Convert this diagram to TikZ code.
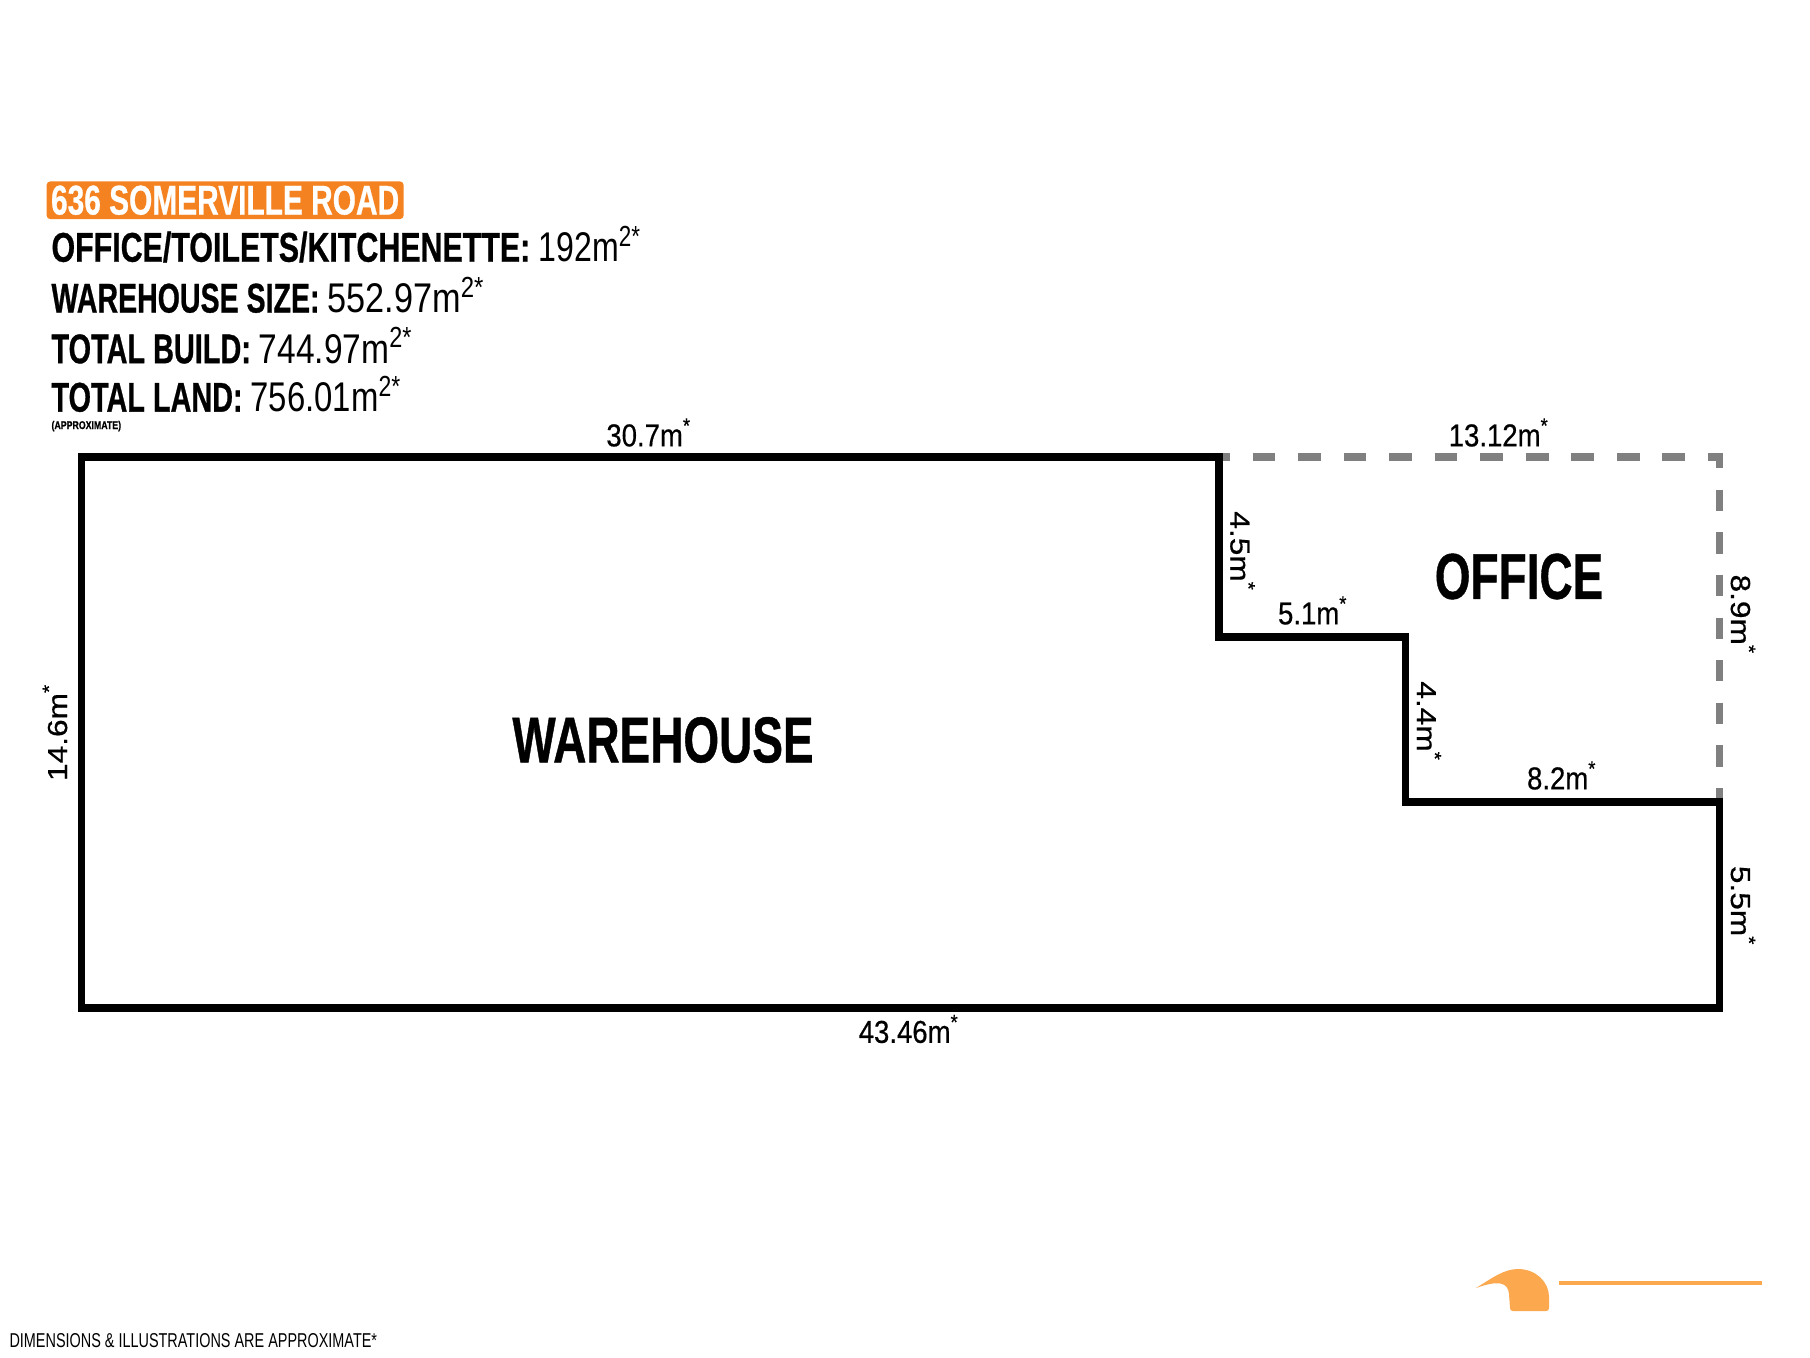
\documentclass[tikz,border=0pt]{standalone}
\usepackage{xcolor}
\usepackage{graphicx}
\usepackage{fontspec}
\setsansfont[BoldFeatures={FakeBold=0.8}]{Liberation Sans}
\newfontfamily\dimfont[FakeBold=0.5]{Liberation Sans}
\usepackage{tikz}
\definecolor{titleorange}{HTML}{F58220}
\definecolor{logoorange}{HTML}{FBA84F}
\definecolor{dashgrey}{HTML}{808080}
\tikzset{
	wall/.style={draw=black,line width=2.2pt,line join=miter},
	openwall/.style={draw=dashgrey,line width=2.2pt},
	arealine/.style={anchor=base west,inner sep=0pt,transform shape,font=\sffamily\fontsize{11.8}{12}\selectfont},
	dimlabel/.style={inner sep=0pt,xscale=0.87,transform shape,font=\dimfont\fontsize{9}{10}\selectfont},
	roomlabel/.style={inner sep=0pt,xscale=0.71,transform shape,font=\sffamily\bfseries\fontsize{18.4}{19}\selectfont},
}
\newcommand{\sqm}[2][1.16]{\scalebox{#1}[1]{#2m\textsuperscript{2*}}}
\newcommand{\lenm}[1]{#1m\textsuperscript{*}}
\begin{document}
\begin{tikzpicture}[font=\sffamily,x=0.01cm,y=-0.01cm]
	\useasboundingbox (0,0) rectangle (1810,1357);
	% outline of the building
	\coordinate (nw) at (81.5,457);
	\coordinate (ne) at (1218.7,457);
	\coordinate (stepa) at (1218.7,637);
	\coordinate (stepb) at (1405.5,637);
	\coordinate (stepc) at (1405.5,802);
	\coordinate (stepd) at (1719.5,802);
	\coordinate (se) at (1719.5,1008);
	\coordinate (sw) at (81.5,1008);
	\coordinate (cornerr) at (1723,457);
	\coordinate (cornert) at (1719.5,453.4);
	\draw[openwall,dash pattern=on 6.46pt off 6.49pt,dash phase=3.33pt] (ne) -- (cornerr);
	\draw[openwall,dash pattern=on 6.06pt off 6.06pt,dash phase=1.82pt] (cornert) -- (stepd);
	\draw[wall] (nw) -- (ne) -- (stepa) -- (stepb) -- (stepc) -- (stepd) -- (se) -- (sw) -- cycle;
	% heading
	\node[arealine,xscale=0.72,fill=titleorange,text=white,rounded corners=0.4mm,inner xsep=1.8pt,inner ysep=1.2pt,font=\sffamily\bfseries\fontsize{11.8}{12}\selectfont] (title) at (46,214.5) {636 SOMERVILLE ROAD};
	\node[arealine,xscale=0.732] (office) at (51,261.7) {\textbf{OFFICE/TOILETS/KITCHENETTE:} \sqm[1.056]{192}};
	\node[arealine,xscale=0.688] (size) at (51,312.5) {\textbf{WAREHOUSE SIZE:} \sqm[1.2]{552.97}};
	\node[arealine,xscale=0.696] (build) at (51,363.2) {\textbf{TOTAL BUILD:} \sqm{744.97}};
	\node[arealine,xscale=0.695] (land) at (51,411.6) {\textbf{TOTAL LAND:} \sqm[1.14]{756.01}};
	\node[arealine,xscale=0.78,font=\sffamily\bfseries\fontsize{3.2}{4}\selectfont] (approx) at (51,429) {(APPROXIMATE)};
	% dimensions
	\node[dimlabel] (top) at (649,432.5) {\lenm{30.7}};
	\node[dimlabel] (topb) at (1499,432.5) {\lenm{13.12}};
	\node[dimlabel,rotate=-90] (sidea) at (1242.5,551.5) {\lenm{4.5}};
	\node[dimlabel] (stepw) at (1313,610.5) {\lenm{5.1}};
	\node[dimlabel,rotate=-90] (sideb) at (1429,721.5) {\lenm{4.4}};
	\node[dimlabel] (stepx) at (1562,775.5) {\lenm{8.2}};
	\node[dimlabel,rotate=-90] (sidec) at (1743,614.7) {\lenm{8.9}};
	\node[dimlabel,rotate=-90] (sided) at (1743,906) {\lenm{5.5}};
	\node[dimlabel,rotate=90] (sidee) at (55,732) {\lenm{14.6}};
	\node[dimlabel] (bottom) at (909,1029) {\lenm{43.46}};
	% rooms
	\node[roomlabel] (warehouse) at (663,740) {WAREHOUSE};
	\node[roomlabel] (officeroom) at (1519,576.5) {OFFICE};
	% footer and logo
	\node[arealine,xscale=0.72,font=\sffamily\fontsize{5.7}{6}\selectfont] (note) at (9,1347) {DIMENSIONS \& ILLUSTRATIONS ARE APPROXIMATE*};
	\fill[logoorange] (1476,1288) .. controls (1492,1278) and (1504,1269) .. (1518,1269) .. controls (1536,1269) and (1549,1282) .. (1549,1297) -- (1549,1308) .. controls (1549,1310) and (1548,1311) .. (1546,1311) -- (1513,1311) .. controls (1511,1311) and (1510,1310) .. (1510,1308) -- (1509,1294) .. controls (1508,1282) and (1498,1280) .. cycle;
	\coordinate (rulea) at (1559,1283.3);
	\coordinate (ruleb) at (1762,1283.3);
	\draw[logoorange,line width=1.1pt] (rulea) -- (ruleb);
\end{tikzpicture}
\end{document}
